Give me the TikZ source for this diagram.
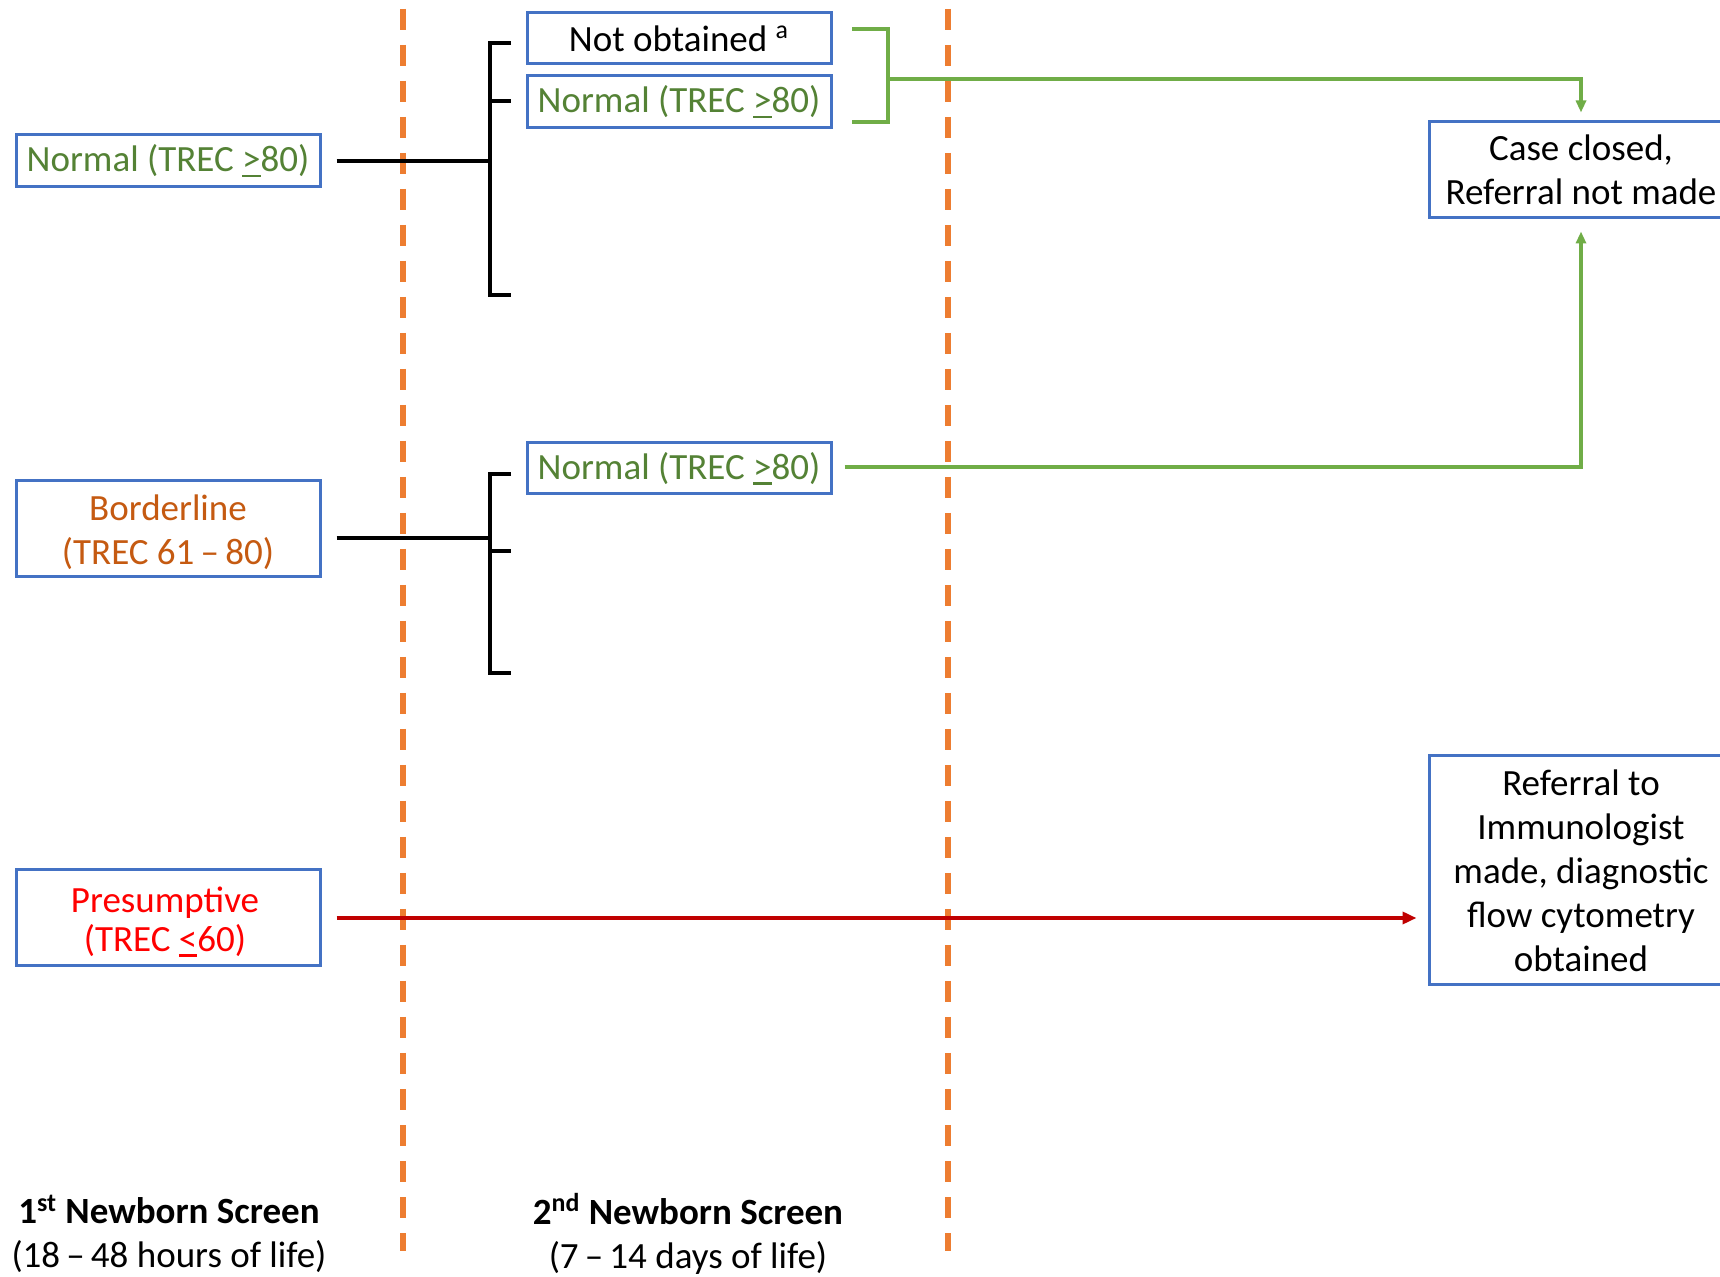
\documentclass[tikz,border=0pt]{standalone}
\usepackage{fontspec}
\setmainfont{Carlito}
\usetikzlibrary{arrows.meta}
\definecolor{bluebox}{HTML}{4472C4}
\definecolor{orng}{HTML}{ED7D31}
\definecolor{grnline}{HTML}{70AD47}
\definecolor{grntext}{HTML}{548235}
\definecolor{brdtext}{HTML}{C55A11}
\definecolor{redtext}{HTML}{FF0000}
\definecolor{redline}{HTML}{C00000}
\newcommand{\ulsym}[1]{\setbox0\hbox{#1}\rlap{\rule[-2.6pt]{\wd0}{1.3pt}}#1}
\begin{document}
\begin{tikzpicture}[x=0.5pt,y=-0.5pt,
  box/.style={draw=bluebox, line width=1.5pt, inner sep=0pt, minimum width=152pt, align=center, font=\fontsize{18.5}{22}\selectfont},
  lbl/.style={inner sep=0pt, align=center, font=\fontsize{18.5}{22}\selectfont},
  orngdash/.style={draw=orng, line width=3pt, dash pattern=on 10.5pt off 7.5pt},
  blkline/.style={draw=black, line width=2pt},
  grnconn/.style={draw=grnline, line width=2pt},
  grnarrow/.style={draw=grnline, line width=2pt, -{Triangle[length=6pt,width=5pt]}},
  redarrow/.style={draw=redline, line width=2.4pt, -{Triangle[length=7pt,width=6pt]}}]
\useasboundingbox (0,0) rectangle (1720,1277);
\fill[white] (0,0) rectangle (1720,1277);
\clip (0,0) rectangle (1720,1277);

% dashed separators
\draw[orngdash] (402.6,9) -- (402.6,1251);
\draw[orngdash] (948,9) -- (948,1251);

% first screen boxes
\node[box, minimum height=26pt, text=grntext] (n1) at (168,161) {Normal (TREC \ulsym{>}80)};
\node[box, minimum height=48pt] (bord) at (168,529) {};
\node[lbl, text=brdtext] (bordtxt) at (168,532) {Borderline\\(TREC 61\,–\,80)};
\node[box, minimum height=48pt] (pres) at (168,918) {};
\node[lbl, text=redtext, font=\fontsize{18.5}{19.5}\selectfont] (prestxt) at (165,922) {Presumptive\\(TREC \ulsym{<}60)};

% second screen boxes
\node[box, minimum height=25.5pt, text=black] (notob) at (679,38.5) {Not obtained \textsuperscript{a}};
\node[box, minimum height=26pt, text=grntext] (n2) at (679,102) {Normal (TREC \ulsym{>}80)};
\node[box, minimum height=25.5pt, text=grntext] (n3) at (679,468.5) {Normal (TREC \ulsym{>}80)};

% outcome boxes
\node[box, minimum height=48pt, text=black] (closed) at (1581,170) {Case closed,\\Referral not made};
\node[box, minimum height=114.5pt, text=black] (refer) at (1581,870.5) {Referral to\\Immunologist\\made, diagnostic\\flow cytometry\\obtained};

% bottom labels
\node[lbl] (lab1) at (169,1234) {\textbf{1\textsuperscript{st} Newborn Screen}\\(18\,–\,48 hours of life)};
\node[lbl] (lab2) at (688,1234) {\textbf{2\textsuperscript{nd} Newborn Screen}\\(7\,–\,14 days of life)};

% bracket 1
\coordinate (b1m) at (490,161);
\coordinate (b1t) at (511,43);
\coordinate (b1c) at (511,101);
\coordinate (b1b) at (511,295);
\draw[blkline] ([xshift=7.5pt]n1.east) -- (b1m);
\draw[blkline] (b1t) -| (490,295) -- (b1b);
\draw[blkline] (490,101) -- (b1c);

% bracket 2
\coordinate (b2m) at (490,538);
\coordinate (b2t) at (511,474);
\coordinate (b2c) at (511,551);
\coordinate (b2b) at (511,673);
\draw[blkline] ([xshift=7.5pt,yshift=-4.5pt]bord.east) -- (b2m);
\draw[blkline] (b2t) -| (490,673) -- (b2b);
\draw[blkline] (490,551) -- (b2c);

% green bracket and arrows to case closed
\coordinate (gt) at (852,29);
\coordinate (gb) at (852,122);
\coordinate (gm) at (888,79);
\draw[grnconn] (gt) -| (888,122) -- (gb);
\draw[grnarrow] (gm) -| ([yshift=4pt]closed.north);
\draw[grnarrow] ([xshift=6pt,yshift=0.75pt]n3.east) -| ([yshift=-6pt]closed.south);

% red arrow to referral
\coordinate (rt) at (refer.west |- pres.east);
\draw[redarrow] ([xshift=7.5pt]pres.east) -- ([xshift=-5.5pt]rt);
\end{tikzpicture}
\end{document}
